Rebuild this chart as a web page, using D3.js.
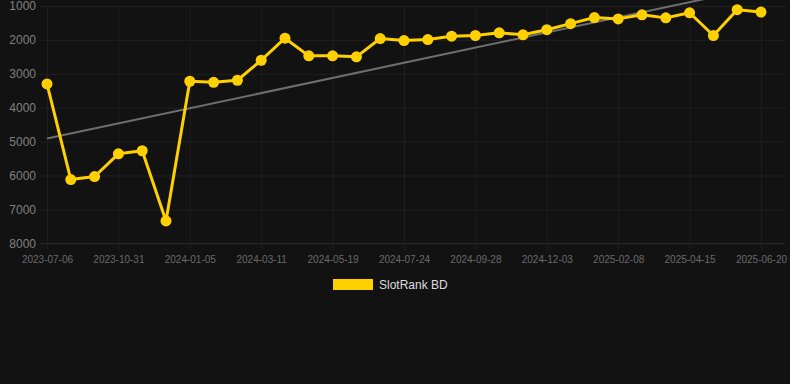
<!DOCTYPE html>
<html>
<head>
<meta charset="utf-8">
<script src="https://cdn.jsdelivr.net/npm/d3@7"></script>
<style>
  html, body { margin: 0; padding: 0; background: #121212; }
  svg { display: block; }
</style>
</head>
<body>
<div id="chart"></div>
<script>
// category dates (only every 3rd shown on the axis)
var dates = [
  "2023-07-06", "2023-08-14", "2023-09-22", "2023-10-31", "2023-11-22", "2023-12-14",
  "2024-01-05", "2024-01-27", "2024-02-18", "2024-03-11", "2024-04-03", "2024-04-26",
  "2024-05-19", "2024-06-10", "2024-07-02", "2024-07-24", "2024-08-15", "2024-09-06",
  "2024-09-28", "2024-10-20", "2024-11-11", "2024-12-03", "2024-12-25", "2025-01-17",
  "2025-02-08", "2025-03-02", "2025-03-24", "2025-04-15", "2025-05-07", "2025-05-29",
  "2025-06-20"
];
var rankValues = [
  3300, 6120, 6030, 5360, 5270, 7340,
  3220, 3250, 3190, 2600, 1950, 2470,
  2470, 2500, 1960, 2020, 1990, 1890,
  1870, 1790, 1850, 1700, 1520, 1340,
  1380, 1260, 1350, 1200, 1870, 1110,
  1180
];
var trendEnds = [4910, 440];
var yTicks = [1000, 2000, 3000, 4000, 5000, 6000, 7000, 8000];
var seriesName = "SlotRank BD";

var W = 790, H = 384;
var plot = {left: 40, right: 785, top: 6, bottom: 243.3};

var svg = d3.select("#chart").append("svg")
  .attr("width", W)
  .attr("height", H)
  .style("font-family", "Helvetica, Arial, 'Liberation Sans', sans-serif");

svg.append("rect").attr("width", W).attr("height", H).attr("fill", "#121212");

var x = d3.scalePoint().domain(dates).range([47, 761]);
var y = d3.scaleLinear().domain([1000, 8000]).range([plot.top, plot.bottom]);

var shownDates = dates.filter(function(d, i) { return i % 3 === 0; });

// horizontal grid + y labels
var yAxis = d3.axisLeft(y).tickValues(yTicks).tickSize(-(plot.right - plot.left)).tickPadding(4)
  .tickFormat(function(d) { return d; });
var gy = svg.append("g").attr("transform", "translate(" + plot.left + ",0)").call(yAxis);
gy.select(".domain").remove();
gy.selectAll(".tick line").attr("stroke", function(d) { return d === 8000 ? "#2e2e2e" : "#202020"; });
gy.selectAll(".tick text").attr("fill", "#808080").style("font-size", "12px");

// vertical grid + x labels
var xAxis = d3.axisBottom(x).tickValues(shownDates).tickSize(-(plot.bottom + 7 - plot.top)).tickPadding(6);
var gx = svg.append("g").attr("transform", "translate(0," + (plot.bottom + 7) + ")").call(xAxis);
gx.select(".domain").remove();
gx.selectAll(".tick line").attr("stroke", "#1e1e1e");
gx.selectAll(".tick text").attr("fill", "#6a6a6a").style("font-size", "10px").attr("dy", "0.71em");

// trend line
svg.append("line")
  .attr("x1", x(dates[0])).attr("y1", y(trendEnds[0]))
  .attr("x2", x(dates[dates.length - 1])).attr("y2", y(trendEnds[1]))
  .attr("stroke", "#6e6e6e").attr("stroke-width", 2);

var line = d3.line()
  .x(function(d, i) { return x(dates[i]); })
  .y(function(d) { return y(d); });

svg.append("path").datum(rankValues)
  .attr("d", line)
  .attr("fill", "none")
  .attr("stroke", "#FFD000")
  .attr("stroke-width", 3)
  .attr("stroke-linejoin", "round");

svg.selectAll(".pt").data(rankValues).enter().append("circle")
  .attr("class", "pt")
  .attr("cx", function(d, i) { return x(dates[i]); })
  .attr("cy", function(d) { return y(d); })
  .attr("r", 5.5)
  .attr("fill", "#FFD000");

// legend
var lg = svg.append("g").attr("transform", "translate(333,279)");
lg.append("rect").attr("width", 40).attr("height", 11).attr("fill", "#FFD000");
lg.append("text").attr("x", 46).attr("y", 5.5).attr("dy", "0.35em")
  .attr("fill", "#dddddd").style("font-size", "12px").text(seriesName);
</script>
</body>
</html>
